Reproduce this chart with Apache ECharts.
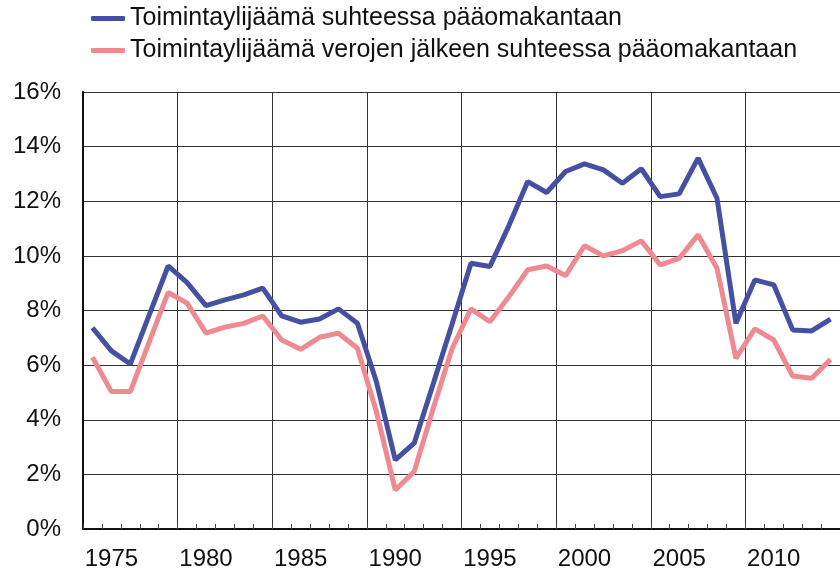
<!DOCTYPE html>
<html>
<head>
<meta charset="utf-8">
<script src="https://cdn.jsdelivr.net/npm/echarts@6/dist/echarts.min.js"></script>
<style>
  html, body { margin: 0; padding: 0; background: #fff; }
  #chart { width: 840px; height: 573px; }
</style>
</head>
<body>
<div id="chart"></div>
<script>
// vuodet 1974-2013
const years = [];
for (let y = 1974; y <= 2013; y++) years.push(String(y));

const seriesNames = [
  'Toimintaylijäämä suhteessa pääomakantaan',
  'Toimintaylijäämä verojen jälkeen suhteessa pääomakantaan'
];

// %-arvot luettu kuvasta
const beforeTax = [
  7.37, 6.52, 6.04, 7.84, 9.63, 9.02, 8.18, 8.39, 8.57, 8.82,
  7.80, 7.57, 7.69, 8.06, 7.53, 5.40, 2.53, 3.14, 5.30, 7.50,
  9.73, 9.61, 11.10, 12.72, 12.32, 13.09, 13.37, 13.15, 12.66, 13.19,
  12.17, 12.27, 13.58, 12.11, 7.53, 9.12, 8.94, 7.29, 7.25, 7.68
];
const afterTax = [
  6.29, 5.03, 5.03, 6.85, 8.66, 8.27, 7.17, 7.39, 7.53, 7.80,
  6.92, 6.58, 7.02, 7.17, 6.62, 4.30, 1.43, 2.10, 4.40, 6.60,
  8.06, 7.59, 8.50, 9.49, 9.63, 9.28, 10.37, 10.00, 10.19, 10.55,
  9.67, 9.91, 10.77, 9.55, 6.25, 7.33, 6.92, 5.60, 5.52, 6.21
];

const font = "'Liberation Sans', Arial, sans-serif";

const chart = echarts.init(document.getElementById('chart'));

const option = {
  animation: false,
  backgroundColor: '#fff',
  textStyle: { fontFamily: font },
  legend: {
    orient: 'vertical',
    left: 86,
    top: 1,
    itemWidth: 34,
    itemHeight: 5,
    itemGap: 7,
    icon: 'roundRect',
    textStyle: { fontSize: 25, color: '#111', fontFamily: font },
    data: seriesNames
  },
  grid: { left: 83, top: 92, bottom: 44, width: 764 },
  xAxis: {
    type: 'category',
    data: years,
    boundaryGap: true,
    axisLine: { lineStyle: { color: '#111', width: 2 } },
    axisTick: { show: true, inside: true, length: 5, interval: 0, lineStyle: { color: '#444' } },
    axisLabel: {
      interval: (i, v) => Number(v) % 5 === 0,
      fontSize: 24,
      color: '#111',
      margin: 18,
      fontFamily: font
    },
    splitLine: {
      show: true,
      interval: (i) => i % 5 === 0,
      lineStyle: { color: '#333', width: 1 }
    }
  },
  yAxis: {
    type: 'value',
    min: 0,
    max: 16,
    interval: 2,
    axisLine: { show: true, lineStyle: { color: '#111', width: 2 } },
    axisTick: { show: false },
    axisLabel: { formatter: '{value}%', fontSize: 24, color: '#111', margin: 22, fontFamily: font },
    splitLine: { show: true, lineStyle: { color: '#333', width: 1 } }
  },
  series: [
    {
      name: seriesNames[0],
      type: 'line',
      data: beforeTax,
      symbol: 'none',
      color: '#4550a3',
      lineStyle: { width: 5, color: '#4550a3' }
    },
    {
      name: seriesNames[1],
      type: 'line',
      data: afterTax,
      symbol: 'none',
      color: '#ee8a90',
      lineStyle: { width: 5, color: '#ee8a90' }
    }
  ]
};

chart.setOption(option);
</script>
</body>
</html>
